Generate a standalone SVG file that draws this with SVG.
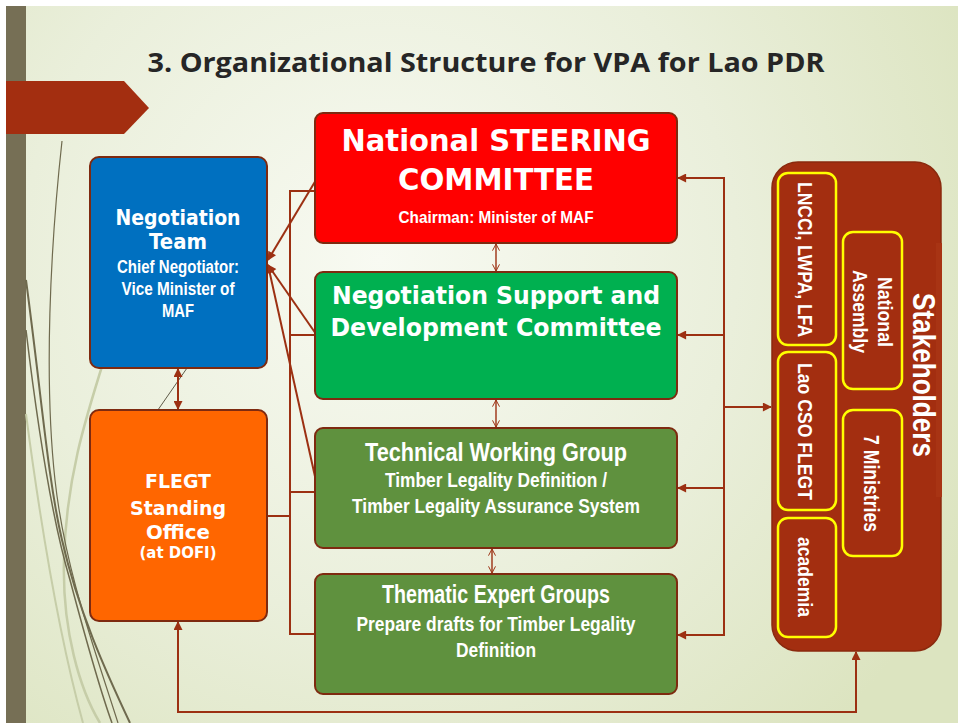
<svg xmlns="http://www.w3.org/2000/svg" width="958" height="723" viewBox="0 0 958 723">
<defs>
<radialGradient id="bg" cx="380" cy="260" r="650" gradientUnits="userSpaceOnUse">
<stop offset="0" stop-color="#f8faf2"/>
<stop offset="0.55" stop-color="#eaefdb"/>
<stop offset="1" stop-color="#dce4c0"/>
</radialGradient>
<marker id="ah" viewBox="0 0 10 10" refX="9" refY="5" markerWidth="11" markerHeight="9" markerUnits="userSpaceOnUse" orient="auto-start-reverse">
<path d="M0,0 L10,5 L0,10 z" fill="#9c3012"/>
</marker>
<marker id="av" viewBox="0 0 10 10" refX="9.5" refY="5" markerWidth="7" markerHeight="10" markerUnits="userSpaceOnUse" orient="auto-start-reverse">
<path d="M0,0 L9.5,5 L0,10" fill="none" stroke="#9c3012" stroke-width="1.4"/>
</marker>
<style>
.box{stroke:#7e2a10;stroke-width:2}
.ver{font-family:"DejaVu Sans","Verdana",sans-serif;font-weight:bold;fill:#fff;text-anchor:middle}
.nar{font-family:"Liberation Sans Narrow","Arial Narrow","Liberation Sans",sans-serif;font-weight:bold;fill:#fff;text-anchor:middle}
.con{fill:none;stroke:#9c3012;stroke-width:2}
.yb{fill:#a32e10;stroke:#ffff00;stroke-width:2.5}
.deco{fill:none;stroke:#6f6a4e}
.decol{fill:none;stroke:#c6cda8}
</style>
</defs>

<g id="background">
<rect x="0" y="0" width="958" height="723" fill="#ffffff"/>
<rect x="6" y="6" width="952" height="717" fill="url(#bg)"/>
<rect x="6" y="6" width="20" height="717" fill="#766f55"/>
<path class="decol" stroke-width="2.5" d="M104,360 C85,420 66,480 64,560 C62,630 80,690 100,723"/>
<path class="decol" stroke-width="2" d="M26,414 C40,520 60,640 83,723"/>
<path class="deco" stroke-width="1.2" d="M62,141 C50,250 44,380 55,480 C65,570 95,650 118,723"/>
<path class="deco" stroke-width="2" d="M26,280 C42,400 48,480 62,540 C78,610 105,670 130,723"/>
<path class="deco" stroke-width="1.5" d="M26,330 C38,430 52,520 70,580 C86,640 100,690 112,723"/>
<line x1="203" y1="345" x2="144" y2="430" stroke="#5f5b48" stroke-width="1"/>
<polygon points="6,81 124,81 149,108 124,134 6,134" fill="#a32e10"/>
<text x="486" y="72" font-family="'Open Sans','Liberation Sans',sans-serif" font-weight="bold" font-size="27" fill="#262626" text-anchor="middle" textLength="677" lengthAdjust="spacingAndGlyphs">3. Organizational Structure for VPA for Lao PDR</text>
</g>

<g id="connectors">
<!-- left bus -->
<polyline class="con" points="315,191 290,191 290,634 315,634"/>
<line class="con" x1="290" y1="335" x2="315" y2="335"/>
<line class="con" x1="290" y1="492" x2="315" y2="492"/>
<line class="con" x1="267" y1="516" x2="290" y2="516"/>
<!-- diagonals into Negotiation Team -->
<line class="con" x1="316" y1="180" x2="268" y2="260" marker-end="url(#ah)"/>
<line class="con" x1="316" y1="334" x2="268" y2="265" marker-end="url(#ah)"/>
<line class="con" x1="316" y1="481" x2="268" y2="265" marker-end="url(#ah)"/>
<!-- Negotiation Team <-> FLEGT -->
<line class="con" x1="178" y1="369" x2="178" y2="409" marker-start="url(#ah)" marker-end="url(#ah)"/>
<!-- central double arrows -->
<line x1="496" y1="244" x2="496" y2="271" stroke="#9c3012" stroke-width="1.4" marker-start="url(#av)" marker-end="url(#av)"/>
<line x1="496" y1="400" x2="496" y2="427" stroke="#9c3012" stroke-width="1.4" marker-start="url(#av)" marker-end="url(#av)"/>
<line x1="492" y1="549" x2="492" y2="573" stroke="#9c3012" stroke-width="1.4" marker-start="url(#av)" marker-end="url(#av)"/>
<!-- right bus -->
<polyline class="con" points="678,178 724,178 724,635 678,635" marker-start="url(#ah)" marker-end="url(#ah)"/>
<line class="con" x1="724" y1="335" x2="678" y2="335" marker-end="url(#ah)"/>
<line class="con" x1="724" y1="488" x2="678" y2="488" marker-end="url(#ah)"/>
<line class="con" x1="724" y1="407" x2="771" y2="407" marker-end="url(#ah)"/>
<!-- bottom loop -->
<polyline class="con" points="178,622 178,712 856,712 856,652" marker-start="url(#ah)" marker-end="url(#ah)"/>
</g>

<g id="negotiation-team">
<rect class="box" x="90" y="157" width="177" height="211" rx="9" fill="#0070c0"/>
<text class="ver" x="178" y="225" font-size="21" textLength="125" lengthAdjust="spacingAndGlyphs">Negotiation</text>
<text class="ver" x="178" y="249" font-size="21" textLength="58" lengthAdjust="spacingAndGlyphs">Team</text>
<text class="nar" x="178" y="273" font-size="18" textLength="122" lengthAdjust="spacingAndGlyphs">Chief Negotiator:</text>
<text class="nar" x="178" y="295" font-size="18" textLength="113" lengthAdjust="spacingAndGlyphs">Vice Minister of</text>
<text class="nar" x="178" y="317" font-size="18" textLength="32" lengthAdjust="spacingAndGlyphs">MAF</text>
</g>

<g id="flegt-standing-office">
<rect class="box" x="90" y="410" width="177" height="211" rx="9" fill="#ff6600"/>
<text class="ver" x="178" y="488" font-size="20" textLength="66" lengthAdjust="spacingAndGlyphs">FLEGT</text>
<text class="ver" x="178" y="515" font-size="20" textLength="96" lengthAdjust="spacingAndGlyphs">Standing</text>
<text class="ver" x="178" y="539" font-size="20" textLength="64" lengthAdjust="spacingAndGlyphs">Office</text>
<text class="ver" x="178" y="558" font-size="15" textLength="77" lengthAdjust="spacingAndGlyphs">(at DOFI)</text>
</g>

<g id="national-steering-committee">
<rect class="box" x="315" y="113" width="362" height="130" rx="8" fill="#ff0000"/>
<text class="ver" x="496" y="151" font-size="30" textLength="309" lengthAdjust="spacingAndGlyphs">National STEERING</text>
<text class="ver" x="496" y="190" font-size="30" textLength="196" lengthAdjust="spacingAndGlyphs">COMMITTEE</text>
<text class="nar" x="496" y="223" font-size="17" textLength="195" lengthAdjust="spacingAndGlyphs">Chairman: Minister of MAF</text>
</g>

<g id="negotiation-support-committee">
<rect class="box" x="315" y="272" width="362" height="127" rx="8" fill="#00b050"/>
<text class="ver" x="496" y="304" font-size="24" textLength="328" lengthAdjust="spacingAndGlyphs">Negotiation Support and</text>
<text class="ver" x="496" y="336" font-size="24" textLength="331" lengthAdjust="spacingAndGlyphs">Development Committee</text>
</g>

<g id="technical-working-group">
<rect class="box" x="315" y="428" width="362" height="120" rx="8" fill="#5f913e"/>
<text class="nar" x="496" y="461" font-size="25" textLength="262" lengthAdjust="spacingAndGlyphs">Technical Working Group</text>
<text class="nar" x="496" y="487" font-size="20" textLength="222" lengthAdjust="spacingAndGlyphs">Timber Legality Definition /</text>
<text class="nar" x="496" y="513" font-size="20" textLength="288" lengthAdjust="spacingAndGlyphs">Timber Legality Assurance System</text>
</g>

<g id="thematic-expert-groups">
<rect class="box" x="315" y="574" width="362" height="120" rx="8" fill="#5f913e"/>
<text class="nar" x="496" y="603" font-size="25" textLength="228" lengthAdjust="spacingAndGlyphs">Thematic Expert Groups</text>
<text class="nar" x="496" y="631" font-size="20" textLength="279" lengthAdjust="spacingAndGlyphs">Prepare drafts for Timber Legality</text>
<text class="nar" x="496" y="657" font-size="20" textLength="80" lengthAdjust="spacingAndGlyphs">Definition</text>
</g>

<g id="stakeholders">
<rect x="772" y="162" width="169" height="489" rx="26" fill="#a32e10" stroke="#8a2a0e" stroke-width="1.5"/>
<rect x="936" y="243" width="6" height="254" fill="#a83414"/>
<text class="nar" transform="translate(913,375) rotate(90)" font-size="32" textLength="164" lengthAdjust="spacingAndGlyphs">Stakeholders</text>
</g>

<g id="lncci-lwpa-lfa">
<rect class="yb" x="778" y="173" width="58" height="172" rx="10"/>
<text class="nar" transform="translate(798,259.5) rotate(90)" font-size="21" textLength="155" lengthAdjust="spacingAndGlyphs">LNCCI, LWPA, LFA</text>
</g>

<g id="lao-cso-flegt">
<rect class="yb" x="778" y="352" width="58" height="158" rx="10"/>
<text class="nar" transform="translate(798,431.5) rotate(90)" font-size="21" textLength="137" lengthAdjust="spacingAndGlyphs">Lao CSO FLEGT</text>
</g>

<g id="academia">
<rect class="yb" x="778" y="518" width="58" height="119" rx="10"/>
<text class="nar" transform="translate(798,577) rotate(90)" font-size="21" textLength="80" lengthAdjust="spacingAndGlyphs">academia</text>
</g>

<g id="national-assembly">
<rect class="yb" x="843" y="232" width="59" height="157" rx="10"/>
<text class="nar" transform="translate(878,312) rotate(90)" font-size="21" textLength="70" lengthAdjust="spacingAndGlyphs">National</text>
<text class="nar" transform="translate(853,311.5) rotate(90)" font-size="21" textLength="83" lengthAdjust="spacingAndGlyphs">Assembly</text>
</g>

<g id="seven-ministries">
<rect class="yb" x="843" y="410" width="59" height="146" rx="10"/>
<text class="nar" transform="translate(864,483.5) rotate(90)" font-size="22" textLength="97" lengthAdjust="spacingAndGlyphs">7 Ministries</text>
</g>
</svg>
